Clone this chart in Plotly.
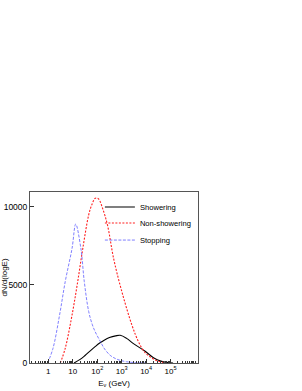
import plotly.graph_objects as go

# log10(E/GeV) sample points and dN/d(logE) values
show_logE = [1.05, 1.3, 1.5, 1.7, 1.9, 2.1, 2.3, 2.5, 2.75, 2.94, 3.2, 3.48, 3.96, 4.3, 4.6, 4.9, 5.1]
show_val = [0, 230, 480, 760, 1030, 1280, 1480, 1630, 1740, 1775, 1580, 1240, 750, 340, 120, 30, 0]

nonshow_logE = [0.49, 0.69, 0.97, 1.2, 1.41, 1.65, 1.78, 1.92, 2.05, 2.22, 2.42, 2.67, 3.01, 3.42, 3.69, 3.93, 4.16, 4.4, 4.7, 4.9]
nonshow_val = [0, 940, 3080, 5210, 7350, 9490, 10150, 10560, 10520, 9900, 8830, 6690, 4550, 2420, 1350, 705, 400, 170, 40, 0]

stop_logE = [-0.03, 0.19, 0.46, 0.69, 0.97, 1.12, 1.33, 1.47, 1.65, 1.8, 1.92, 2.12, 2.3, 2.53, 2.75, 2.94, 3.2, 3.5, 4.0]
stop_val = [0, 940, 3080, 5210, 7350, 8900, 7350, 5210, 3300, 2450, 1990, 1400, 900, 490, 280, 170, 80, 30, 5]

x_tickvals = [1, 10, 100, 1000, 10000, 100000]
x_ticktext = ["1", "10", "10<sup>2</sup>", "10<sup>3</sup>", "10<sup>4</sup>", "10<sup>5</sup>"]
y_tickvals = [0, 5000, 10000]
y_ticktext = ["0", "5000", "10000"]

FONT = "Liberation Sans, Arial, sans-serif"

fig = go.Figure()
fig.add_trace(go.Scatter(x=[10 ** v for v in show_logE], y=show_val, mode="lines", legend="legend",
                         name="Showering", line=dict(color="black", width=1.1, shape="spline")))
fig.add_trace(go.Scatter(x=[10 ** v for v in nonshow_logE], y=nonshow_val, mode="lines", legend="legend2",
                         name="Non-showering", line=dict(color="#ff2020", width=1.1, dash="2px,1.5px", shape="spline")))
fig.add_trace(go.Scatter(x=[10 ** v for v in stop_logE], y=stop_val, mode="lines", legend="legend3",
                         name="Stopping", line=dict(color="#7070ff", width=0.9, dash="3px,1.5px", shape="spline")))

leg_common = dict(x=0.416, xanchor="left", yanchor="middle", bgcolor="rgba(0,0,0,0)",
                  font=dict(size=7.6, family=FONT), tracegroupgap=0)

fig.update_layout(
    width=302, height=391,
    margin=dict(l=30, r=104, t=192, b=28),
    paper_bgcolor="white", plot_bgcolor="white",
    font=dict(family=FONT, size=7.6, color="black"),
    showlegend=True,
    legend=dict(y=0.912, **leg_common),
    legend2=dict(y=0.819, **leg_common),
    legend3=dict(y=0.719, **leg_common),
    xaxis=dict(type="log", range=[-0.75, 6.12], tickvals=x_tickvals, ticktext=x_ticktext,
               ticks="inside", ticklen=4, tickcolor="#333", showline=True, linecolor="#555",
               linewidth=1, mirror=True, showgrid=False, zeroline=False, automargin=False,
               minor=dict(ticks="inside", ticklen=2, tickcolor="#333", dtick="D1", showgrid=False),
               tickfont=dict(size=8),
               title=dict(text="E<sub>ν</sub> (GeV)", font=dict(size=8), standoff=5)),
    yaxis=dict(range=[0, 10960], tickvals=y_tickvals, ticktext=y_ticktext, ticks="inside",
               ticklen=4, tickcolor="#333", automargin=False,
               showline=True, linecolor="#555", linewidth=1, mirror=True, showgrid=False,
               zeroline=False, tickfont=dict(size=8.5),
               title=dict(text="dN/d(logE)", font=dict(size=8), standoff=0)),
)

fig.write_html("out.html", config={"displayModeBar": False},
               post_script="document.body.style.margin='0';")
